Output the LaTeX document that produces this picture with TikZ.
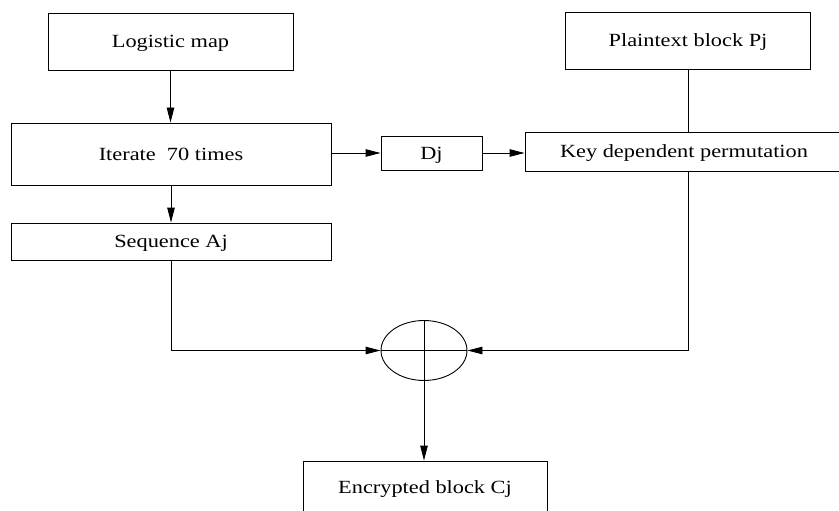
\documentclass[tikz,border=0pt]{standalone}
\usepackage{fontspec}
\setmainfont[FakeStretch=1.2]{Liberation Serif}
\usetikzlibrary{arrows.meta,shapes.geometric}
\begin{document}
\begin{tikzpicture}[x=1pt,y=-1pt,
  every node/.style={font=\fontsize{18.6}{22}\selectfont},
  box/.style={draw, line width=0.9pt, rectangle, inner sep=0pt, text height=12.3pt, text depth=0pt},
  conn/.style={line width=0.9pt},
  arr/.style={line width=0.9pt, -{Triangle[length=15pt,width=7.5pt]}}]
\clip (0,0) rectangle (839,511);
\node[box, minimum width=245pt, minimum height=57pt] (logi) at (170.5,41.5) {Logistic map};
\node[box, minimum width=245pt, minimum height=57pt] (plain) at (688,40.5) {Plaintext block Pj};
\node[box, minimum width=320pt, minimum height=62pt] (iter) at (171,154) {Iterate~ 70 times};
\node[box, minimum width=320pt, minimum height=37pt] (seq) at (171,241.5) {Sequence Aj};
\node[box, minimum width=101pt, minimum height=34pt] (dj) at (431.5,153) {Dj};
\node[box, minimum width=318pt, minimum height=39pt] (key) at (684,151.5) {Key dependent permutation};
\node[box, minimum width=244pt, minimum height=52pt] (enc) at (425,487) {Encrypted block Cj};
\node[draw, line width=0.9pt, ellipse, minimum width=86pt, minimum height=60pt, inner sep=0pt] (xor) at (424,350.5) {};
\draw[arr] (logi.south) -- (logi.south |- iter.north);
\draw[arr] (iter.south) -- (seq.north);
\draw[arr] (iter.east |- dj.west) -- (dj.west);
\draw[arr] (dj.east) -- (key.west |- dj.east);
\draw[conn] (plain.south) -- (plain.south |- key.north);
\draw[arr] (plain.south |- key.south) |- (xor.east);
\draw[arr] (seq.south) |- (xor.west);
\draw[conn] (xor.west) -- (xor.east);
\draw[arr] (xor.north) -- (xor.north |- enc.north);
\end{tikzpicture}
\end{document}
